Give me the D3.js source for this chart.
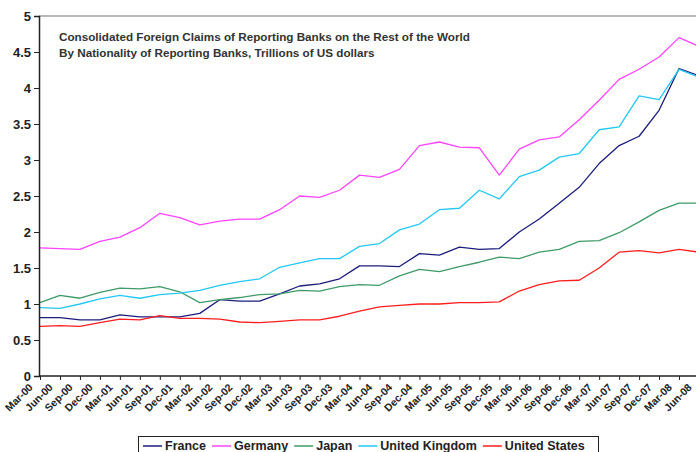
<!DOCTYPE html>
<html>
<head>
<meta charset="utf-8">
<title>Consolidated Foreign Claims</title>
<style>
body { margin: 0; background: #fff; font-family: "Liberation Sans", Arial, sans-serif; }
svg { display: block; }
</style>
<script src="https://d3js.org/d3.v7.min.js"></script>
</head>
<body>
<script>
var quarters = ["Mar-00","Jun-00","Sep-00","Dec-00","Mar-01","Jun-01","Sep-01","Dec-01",
  "Mar-02","Jun-02","Sep-02","Dec-02","Mar-03","Jun-03","Sep-03","Dec-03",
  "Mar-04","Jun-04","Sep-04","Dec-04","Mar-05","Jun-05","Sep-05","Dec-05",
  "Mar-06","Jun-06","Sep-06","Dec-06","Mar-07","Jun-07","Sep-07","Dec-07",
  "Mar-08","Jun-08"];

var france = [0.81,0.81,0.78,0.78,0.85,0.82,0.82,0.82,0.87,1.06,1.04,1.04,1.14,1.25,1.28,1.35,
  1.53,1.53,1.52,1.70,1.68,1.79,1.76,1.77,2.00,2.18,2.40,2.62,2.95,3.20,3.33,3.69,4.27,4.17];
var germany = [1.78,1.77,1.76,1.87,1.93,2.06,2.26,2.20,2.10,2.15,2.18,2.18,2.31,2.50,2.48,2.58,
  2.79,2.76,2.87,3.20,3.25,3.18,3.17,2.79,3.15,3.28,3.32,3.56,3.83,4.12,4.26,4.43,4.70,4.58];
var japan = [1.02,1.12,1.08,1.16,1.22,1.21,1.24,1.17,1.02,1.06,1.09,1.13,1.14,1.19,1.18,1.24,
  1.27,1.26,1.39,1.48,1.45,1.52,1.58,1.65,1.63,1.72,1.76,1.87,1.88,1.99,2.14,2.30,2.40,2.40];
var uk = [0.95,0.94,1.00,1.07,1.12,1.08,1.13,1.15,1.19,1.26,1.31,1.35,1.51,1.57,1.63,1.63,
  1.80,1.84,2.03,2.11,2.31,2.33,2.58,2.46,2.77,2.86,3.04,3.09,3.42,3.46,3.89,3.84,4.26,4.15];
var us = [0.69,0.70,0.69,0.74,0.79,0.78,0.84,0.80,0.80,0.79,0.75,0.74,0.76,0.78,0.78,0.83,
  0.90,0.96,0.98,1.00,1.00,1.02,1.02,1.03,1.18,1.27,1.32,1.33,1.50,1.72,1.74,1.71,1.76,1.72];

var seriesNames = ["France","Germany","Japan","United Kingdom","United States"];
var seriesColors = ["#1c1c7c","#ff44ff","#3f9a68","#22c8f2","#ff1e1e"];
var yTicks = [0,0.5,1,1.5,2,2.5,3,3.5,4,4.5,5];
var titleLines = ["Consolidated Foreign Claims of Reporting Banks on the Rest of the World",
  "By Nationality of Reporting Banks, Trillions of US dollars"];

var W = 696, H = 452;
var plotL = 39, plotT = 16, plotB = 376, plotR = 720;

var svg = d3.select("body").append("svg")
  .attr("width", W).attr("height", H);

var x = d3.scalePoint().domain(quarters).range([40, 699]);
var y = d3.scaleLinear().domain([0, 5]).range([plotB, plotT]);

// plot frame (grey top edge)
svg.append("line")
  .attr("x1", plotL).attr("x2", plotR)
  .attr("y1", plotT).attr("y2", plotT)
  .attr("stroke", "#a0a0a0").attr("stroke-width", 1.5);

var series = [france, germany, japan, uk, us];
var line = d3.line()
  .x(function(d, i) { return x(quarters[i]); })
  .y(function(d) { return y(d); });

svg.append("g").selectAll("path")
  .data(series)
  .enter().append("path")
    .attr("d", line)
    .attr("fill", "none")
    .attr("stroke", function(d, i) { return seriesColors[i]; })
    .attr("stroke-width", 1.3)
    .attr("stroke-linejoin", "round");

// y axis
var yAxis = svg.append("g")
  .attr("transform", "translate(" + plotL + ",0)")
  .call(d3.axisLeft(y).tickValues(yTicks).tickSize(5).tickPadding(3)
    .tickFormat(function(d) { return d; }));
yAxis.select(".domain").attr("stroke", "#222").attr("stroke-width", 1.5);
yAxis.selectAll(".tick line").attr("stroke", "#222");
yAxis.selectAll(".tick text")
  .attr("font-family", "Liberation Sans, Arial, sans-serif")
  .attr("font-size", 13).attr("font-weight", "bold").attr("fill", "#222");

// x axis
var xAxis = svg.append("g")
  .attr("transform", "translate(0," + plotB + ")")
  .call(d3.axisBottom(x).tickSize(4).tickSizeOuter(0));
xAxis.select(".domain").attr("stroke", "#222").attr("stroke-width", 1.5)
  .attr("d", "M" + plotL + ",0H" + plotR);
xAxis.selectAll(".tick line").attr("stroke", "#222");
xAxis.selectAll(".tick text")
  .attr("font-family", "Liberation Sans, Arial, sans-serif")
  .attr("font-size", 10.5).attr("font-weight", "bold").attr("fill", "#222")
  .attr("text-anchor", "end")
  .attr("dy", null)
  .attr("y", 0)
  .attr("transform", "translate(-7,12) rotate(-45)");

// title
svg.append("g").selectAll("text")
  .data(titleLines)
  .enter().append("text")
    .attr("x", 59)
    .attr("y", function(d, i) { return 41 + i * 16; })
    .attr("font-size", 11.7).attr("font-weight", "bold").attr("fill", "#333")
    .text(function(d) { return d; });

// legend
var legend = svg.append("g");
legend.append("rect")
  .attr("x", 138.5).attr("y", 436.5)
  .attr("width", 460).attr("height", 30)
  .attr("fill", "#fff").attr("stroke", "#222");

var lx = 143;
seriesNames.forEach(function(name, i) {
  legend.append("line")
    .attr("x1", lx).attr("x2", lx + 19)
    .attr("y1", 446).attr("y2", 446)
    .attr("stroke", seriesColors[i]).attr("stroke-width", 1.5);
  var t = legend.append("text")
    .attr("x", lx + 22).attr("y", 450)
    .attr("font-size", 12.5).attr("font-weight", "bold").attr("fill", "#222")
    .text(name);
  lx += 22 + t.node().getComputedTextLength() + 6;
});
</script>
</body>
</html>
